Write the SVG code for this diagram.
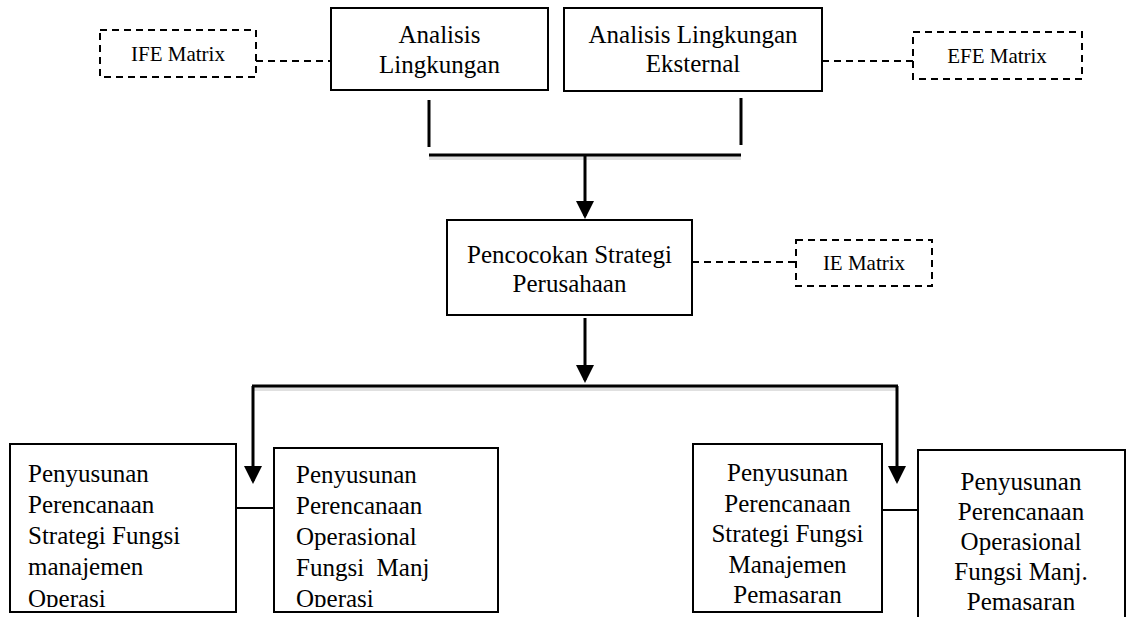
<svg xmlns="http://www.w3.org/2000/svg" width="1133" height="617" viewBox="0 0 1133 617">
<style>
text{font-family:"Liberation Serif","Times New Roman",serif;fill:#000}
.t{font-size:25px}
.s{font-size:21px}
.c{text-anchor:middle}
.box{fill:#fff;stroke:#000;stroke-width:2}
.dbox{fill:#fff;stroke:#000;stroke-width:2;stroke-dasharray:7,5}
.dl{fill:none;stroke:#000;stroke-width:2;stroke-dasharray:7,5}
.thick{fill:none;stroke:#000;stroke-width:3}
.thin{fill:none;stroke:#000;stroke-width:2}
.sh{fill:none;stroke:#000;stroke-opacity:0.12;stroke-width:4}
</style>
<defs>
<marker id="arr" markerWidth="6" markerHeight="6" refX="5" refY="3" orient="auto" markerUnits="strokeWidth">
<path d="M0,0 L6,3 L0,6 Z" fill="#000"/>
</marker>
<clipPath id="c1"><rect x="10" y="444" width="226" height="163"/></clipPath>
<clipPath id="c2"><rect x="274" y="448" width="224" height="159"/></clipPath>
</defs>
<rect width="1133" height="617" fill="#fff"/>

<g id="connectors">
<line class="dl" x1="256" y1="61" x2="331" y2="61"/>
<line class="dl" x1="822" y1="61" x2="913" y2="61"/>
<line class="dl" x1="692" y1="262" x2="796" y2="262"/>
<line class="thick" x1="429" y1="100" x2="429" y2="147"/>
<line class="thick" x1="741" y1="98" x2="741" y2="145"/>
<line class="sh" x1="429" y1="158" x2="741" y2="158"/>
<line class="thick" x1="429" y1="155" x2="741" y2="155"/>
<line class="thick" x1="585" y1="155" x2="585" y2="216" marker-end="url(#arr)"/>
<line class="thick" x1="585" y1="318" x2="585" y2="380" marker-end="url(#arr)"/>
<line class="sh" x1="253" y1="389" x2="897" y2="389"/>
<line class="thick" x1="252" y1="386" x2="898" y2="386"/>
<line class="thick" x1="253" y1="386" x2="253" y2="481" marker-end="url(#arr)"/>
<line class="thick" x1="897" y1="386" x2="897" y2="481" marker-end="url(#arr)"/>
<line class="thin" x1="236" y1="508" x2="274" y2="508"/>
<line class="thin" x1="882" y1="510" x2="918" y2="510"/>
</g>

<g id="ife">
<rect class="dbox" x="100" y="30" width="156" height="47"/>
<text class="s c" x="178" y="61">IFE Matrix</text>
</g>

<g id="analisis-internal">
<rect class="box" x="331" y="8" width="217" height="82"/>
<text class="t c" x="439.5" y="43">Analisis</text>
<text class="t c" x="439.5" y="73">Lingkungan</text>
</g>

<g id="analisis-eksternal">
<rect class="box" x="564" y="8" width="258" height="83"/>
<text class="t c" x="693" y="43">Analisis Lingkungan</text>
<text class="t c" x="693" y="72">Eksternal</text>
</g>

<g id="efe">
<rect class="dbox" x="913" y="32" width="169" height="47"/>
<text class="s c" x="997" y="63">EFE Matrix</text>
</g>

<g id="pencocokan">
<rect class="box" x="447" y="220" width="245" height="95"/>
<text class="t c" x="569.5" y="263">Pencocokan Strategi</text>
<text class="t c" x="569.5" y="292">Perusahaan</text>
</g>

<g id="ie">
<rect class="dbox" x="796" y="240" width="136" height="46"/>
<text class="s c" x="864" y="270">IE Matrix</text>
</g>

<g id="strategi-operasi">
<rect class="box" x="10" y="444" width="226" height="168"/>
<g clip-path="url(#c1)">
<text class="t" x="28" y="482">Penyusunan</text>
<text class="t" x="28" y="513">Perencanaan</text>
<text class="t" x="28" y="544">Strategi Fungsi</text>
<text class="t" x="28" y="575">manajemen</text>
<text class="t" x="28" y="607">Operasi</text>
</g>
</g>

<g id="operasional-operasi">
<rect class="box" x="274" y="448" width="224" height="164"/>
<g clip-path="url(#c2)">
<text class="t" x="296" y="483">Penyusunan</text>
<text class="t" x="296" y="514">Perencanaan</text>
<text class="t" x="296" y="545">Operasional</text>
<text class="t" x="296" y="576" xml:space="preserve">Fungsi  Manj</text>
<text class="t" x="296" y="607">Operasi</text>
</g>
</g>

<g id="strategi-pemasaran">
<rect class="box" x="693" y="444" width="189" height="168"/>
<text class="t c" x="787.5" y="481">Penyusunan</text>
<text class="t c" x="787.5" y="512">Perencanaan</text>
<text class="t c" x="787.5" y="542">Strategi Fungsi</text>
<text class="t c" x="787.5" y="573">Manajemen</text>
<text class="t c" x="787.5" y="603">Pemasaran</text>
</g>

<g id="operasional-pemasaran">
<path class="box" d="M918,618 V450 H1125 V618"/>
<text class="t c" x="1021" y="490">Penyusunan</text>
<text class="t c" x="1021" y="520">Perencanaan</text>
<text class="t c" x="1021" y="550">Operasional</text>
<text class="t c" x="1021" y="580">Fungsi Manj.</text>
<text class="t c" x="1021" y="610">Pemasaran</text>
</g>
</svg>
